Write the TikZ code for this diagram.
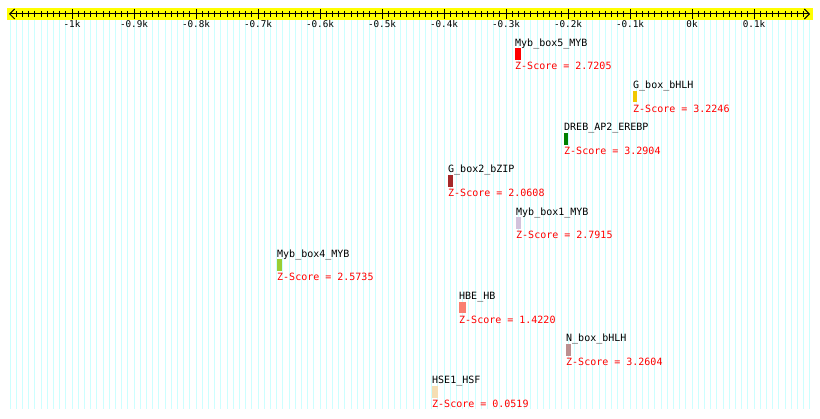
\documentclass[tikz,border=0pt]{standalone}
\usepackage{fontspec}
\setmonofont{DejaVu Sans Mono}
\usetikzlibrary{arrows.meta}
\definecolor{gridc}{RGB}{204,255,255}
\definecolor{bandc}{RGB}{255,255,0}
\definecolor{zred}{RGB}{255,0,0}
\definecolor{cgold}{RGB}{240,200,0}
\definecolor{cgreen}{RGB}{0,128,0}
\definecolor{cbrown}{RGB}{165,42,42}
\definecolor{cthistle}{RGB}{210,195,220}
\definecolor{cygreen}{RGB}{154,205,50}
\definecolor{csalmon}{RGB}{250,128,114}
\definecolor{crosy}{RGB}{188,143,143}
\definecolor{cwheat}{RGB}{245,222,179}
\tikzset{
  lab/.style={anchor=base west,inner sep=0pt,font=\fontsize{10}{12}\selectfont\ttfamily,text=black},
  zlab/.style={anchor=base west,inner sep=0pt,font=\fontsize{10}{12}\selectfont\ttfamily,text=zred},
  motif/.style={anchor=north west,inner sep=0pt,draw=none,minimum height=11.7pt},
  rlab/.style={anchor=base,inner sep=0pt,font=\fontsize{9.3}{11}\selectfont\ttfamily},
  gridline/.style={draw=gridc,line width=1pt},
}
\begin{document}
\begin{tikzpicture}[x=1pt,y=-1pt]
\useasboundingbox (0,0) rectangle (820,419);
\fill[white] (0,0) rectangle (820,419);
% grid
\foreach \k in {-10,...,119}{
  \draw[gridline] ({72+6.2*\k},8) -- ({72+6.2*\k},409);
}
% ruler band
\fill[bandc] (7,8) rectangle (813,20);
\coordinate (rl) at (9,14);
\coordinate (rr) at (810,14);
\draw[line width=1pt,{Straight Barb[length=5pt,width=10pt]}-{Straight Barb[length=5pt,width=10pt]}] (rl) -- (rr);
\foreach \k in {-9,...,118}{
  \draw[line width=0.9pt] ({72+6.2*\k},11) -- ({72+6.2*\k},17);
}
\foreach \i/\t in {0/-1k,1/-0.9k,2/-0.8k,3/-0.7k,4/-0.6k,5/-0.5k,6/-0.4k,7/-0.3k,8/-0.2k,9/-0.1k,10/0k,11/0.1k}{
  \draw[line width=1pt] ({72+62*\i},9) -- ({72+62*\i},19);
  \node[rlab] (r\i) at ({72+62*\i},28) {\t};
}
% features
\foreach \n/\x/\w/\c/\name/\z [count=\r from 0] in {
  1/515/6/zred/Myb\_box5\_MYB/2.7205,
  2/633/4/cgold/G\_box\_bHLH/3.2246,
  3/564/4/cgreen/DREB\_AP2\_EREBP/3.2904,
  4/448/5/cbrown/G\_box2\_bZIP/2.0608,
  5/516/5/cthistle/Myb\_box1\_MYB/2.7915,
  6/277/5/cygreen/Myb\_box4\_MYB/2.5735,
  7/459/7/csalmon/HBE\_HB/1.4220,
  8/566/5/crosy/N\_box\_bHLH/3.2604,
  9/432/6/cwheat/HSE1\_HSF/0.0519}{
  \pgfmathsetmacro{\T}{38+42.2*\r}
  \node[lab] (l\n) at (\x,\T+8.3) {\name};
  \node[motif,fill=\c,minimum width=\w pt] (b\n) at (\x,\T+10.3) {};
  \node[zlab] (z\n) at (\x,\T+32) {Z-Score = \z};
}
\end{tikzpicture}
\end{document}
